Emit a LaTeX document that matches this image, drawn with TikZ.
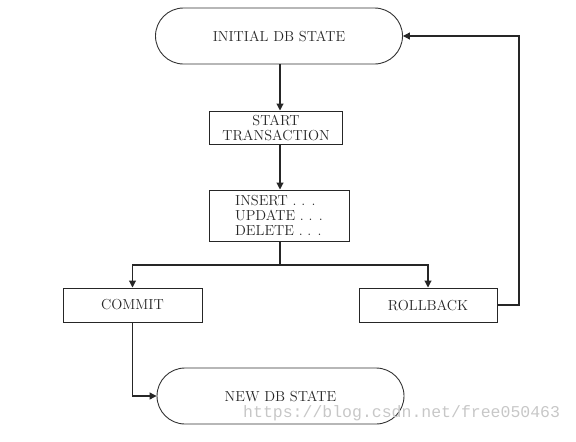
\documentclass[tikz,border=0pt]{standalone}
\usepackage{fontspec}
\newfontfamily\wmfont{Liberation Mono}
\usetikzlibrary{arrows.meta}
\begin{document}
\begin{tikzpicture}[x=1pt,y=-1pt,
  every node/.style={font=\fontsize{14.5}{15}\selectfont, text=black!85},
  stadium/.style={draw=black!80, line width=0.9pt, rounded corners=28pt, minimum width=247pt, minimum height=56pt, inner sep=0pt},
  procbox/.style={draw=black!85, line width=1pt, inner sep=0pt, align=center},
  conn/.style={draw=black!85, line width=1.1pt},
  arr/.style={conn, -{Triangle[length=7pt,width=7pt]}}]
\useasboundingbox (0,0) rectangle (576,442);
\node[stadium] (init) at (279,36) {INITIAL DB STATE};
\node[procbox, minimum width=133pt, minimum height=33pt] (start) at (276,127.5) {START\\TRANSACTION};
\node[procbox, minimum width=140pt, minimum height=51pt, align=left] (ins) at (279,215.5) {INSERT . . .\\UPDATE . . .\\DELETE . . .};
\node[procbox, minimum width=139pt, minimum height=34pt] (commit) at (132.5,305) {COMMIT};
\node[procbox, minimum width=138pt, minimum height=34pt] (rollback) at (428,305) {ROLLBACK};
\node[stadium] (new) at (280.5,396) {NEW DB STATE};
\coordinate (j) at (280,265);
\coordinate (r) at (519,305);
\path[arr] (init.south -| 280,0) -- (start.north -| 280,0);
\path[arr] (start.south -| 280,0) -- (ins.north -| 280,0);
\path[conn] (ins.south -| j) -- (j);
\path[arr] (j) -| (commit.north);
\path[arr] (j) -| (rollback.north);
\path[arr] (rollback.east) -- (r) |- (init.east);
\path[arr] (commit.south) |- (new.west);
\node[anchor=west, inner sep=0pt, font=\wmfont\fontsize{16.5}{17}\selectfont, text=black!22] (wm) at (243,413) {https://blog.csdn.net/free050463};
\end{tikzpicture}
\end{document}
